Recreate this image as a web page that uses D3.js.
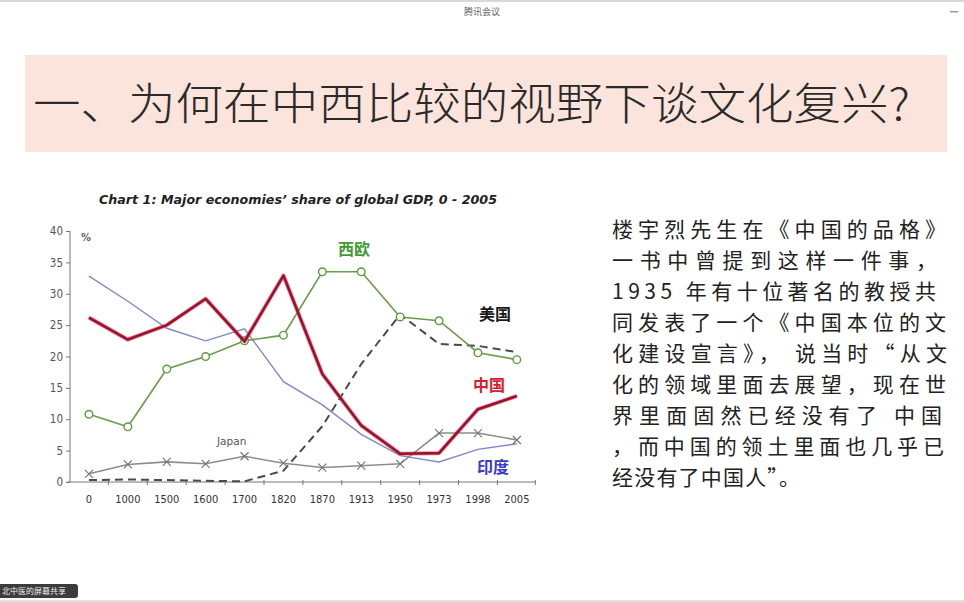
<!DOCTYPE html>
<html>
<head>
<meta charset="utf-8">
<script src="https://cdn.jsdelivr.net/npm/d3@7"></script>
<style>
  body { margin: 0; background: #fff; }
  svg { display: block; }
</style>
</head>
<body>
<svg width="964" height="602"></svg>
<script>
// chart data (share of global GDP, %)
var years = ["0", "1000", "1500", "1600", "1700", "1820", "1870", "1913", "1950", "1973", "1998", "2005"];
var china   = [26.2, 22.7, 25.0, 29.2, 22.4, 32.9, 17.2, 9.0, 4.5, 4.6, 11.6, 13.7];
var westEur = [10.8, 8.8, 18.0, 20.0, 22.5, 23.4, 33.5, 33.5, 26.3, 25.7, 20.6, 19.5];
var india   = [32.8, 28.8, 24.5, 22.5, 24.4, 16.0, 12.3, 7.6, 4.2, 3.2, 5.2, 6.1];
var usa     = [0.3, 0.4, 0.3, 0.2, 0.1, 1.8, 8.9, 18.8, 26.7, 22.0, 21.7, 20.7];
var japan   = [1.3, 2.8, 3.2, 2.9, 4.1, 3.0, 2.3, 2.6, 2.9, 7.8, 7.8, 6.7];
var yTicks  = [0, 5, 10, 15, 20, 25, 30, 35, 40];

var slideTitle = "一、为何在中西比较的视野下谈文化复兴?";
var chartTitle = "Chart 1: Major economies\u2019 share of global GDP, 0 - 2005";
var bodyLines = [
  "楼宇烈先生在《中国的品格》",
  "一书中曾提到这样一件事，",
  "1935 年有十位著名的教授共",
  "同发表了一个《中国本位的文",
  "化建设宣言》， 说当时“从文",
  "化的领域里面去展望，现在世",
  "界里面固然已经没有了 中国",
  "，而中国的领土里面也几乎已",
  "经没有了中国人”。"
];

var svg = d3.select("svg");
var cjk = "'Noto Sans CJK SC', 'Noto Sans', sans-serif";

// ---- slide chrome ----
svg.append("rect").attr("x", 0).attr("y", 0).attr("width", 964).attr("height", 2).attr("fill", "#d8d8d8");
svg.append("text").attr("x", 482).attr("y", 15).attr("text-anchor", "middle")
  .style("font-family", cjk).style("font-size", "9px").attr("fill", "#666").text("腾讯会议");
svg.append("rect").attr("x", 950).attr("y", 11).attr("width", 8).attr("height", 1.5).attr("fill", "#999");

svg.append("rect").attr("x", 25).attr("y", 55).attr("width", 922).attr("height", 97).attr("fill", "#fbe4dc");
svg.append("text").attr("x", 33).attr("y", 120)
  .attr("textLength", 877).attr("lengthAdjust", "spacingAndGlyphs")
  .style("font-family", cjk).style("font-size", "44px").style("font-weight", 300)
  .attr("fill", "#2a2a2a").text(slideTitle);

// right side paragraph
var lineW = [334, 325, 324, 334, 335, 334, 330, 332, 188];
svg.append("g").selectAll("text")
  .data(bodyLines)
  .enter().append("text")
  .attr("x", 612)
  .attr("y", function (d, i) { return 237 + i * 31; })
  .attr("textLength", function (d, i) { return lineW[i]; })
  .attr("lengthAdjust", "spacing")
  .style("font-family", cjk).style("font-size", "21px")
  .attr("fill", "#222")
  .text(function (d) { return d; });

// bottom strip
svg.append("rect").attr("x", 0).attr("y", 600).attr("width", 964).attr("height", 2).attr("fill", "#e2e2e2");
svg.append("rect").attr("x", -4).attr("y", 584).attr("width", 82).attr("height", 14).attr("rx", 3).attr("fill", "#3c3c3c");
svg.append("text").attr("x", 2).attr("y", 594)
  .style("font-family", cjk).style("font-size", "8px").attr("fill", "#eee").text("北中医的屏幕共享");

// ---- chart ----
svg.append("text").attr("x", 99).attr("y", 204)
  .attr("textLength", 398).attr("lengthAdjust", "spacingAndGlyphs")
  .style("font-family", "'DejaVu Sans', sans-serif").style("font-size", "12.5px")
  .style("font-weight", "bold").style("font-style", "italic")
  .attr("fill", "#222").text(chartTitle);

var x = d3.scaleBand().domain(years).range([69.5, 536.3]).padding(0);
var y = d3.scaleLinear().domain([0, 40]).range([482, 231]);
var cx = function (d, i) { return x(years[i]) + x.bandwidth() / 2; };

var yAxis = svg.append("g")
  .attr("transform", "translate(70,0)")
  .call(d3.axisLeft(y).tickValues(yTicks).tickSize(4).tickPadding(3));
yAxis.select(".domain").attr("stroke", "#777").attr("d", "M0,231V482");
yAxis.selectAll(".tick line").attr("stroke", "#777");
yAxis.selectAll("text").attr("fill", "#555")
  .style("font-family", "'DejaVu Sans Condensed', 'DejaVu Sans', sans-serif").style("font-size", "11.5px");

var xAxis = svg.append("g")
  .attr("transform", "translate(0,482)")
  .call(d3.axisBottom(x).tickSize(0).tickPadding(13));
xAxis.select(".domain").attr("stroke", "#777").attr("d", "M67,0H535");
xAxis.selectAll("text").attr("fill", "#333")
  .style("font-family", "'DejaVu Sans Condensed', 'DejaVu Sans', sans-serif").style("font-size", "11px");
// little boundary ticks between categories
xAxis.selectAll(".bound")
  .data(years.slice(1).concat(["end"]))
  .enter().append("line")
  .attr("class", "bound")
  .attr("x1", function (d) { return d === "end" ? x.range()[1] - 1 : x(d); })
  .attr("x2", function (d) { return d === "end" ? x.range()[1] - 1 : x(d); })
  .attr("y1", -2).attr("y2", 3)
  .attr("stroke", "#777");

svg.append("text").attr("x", 81).attr("y", 241)
  .style("font-family", "'DejaVu Sans', sans-serif").style("font-size", "10px")
  .style("font-weight", "bold").attr("fill", "#666").text("%");

var line = d3.line().x(cx).y(function (d) { return y(d); });

svg.append("path").datum(india).attr("d", line)
  .attr("fill", "none").attr("stroke", "#8088c8").attr("stroke-width", 1.4);

svg.append("path").datum(usa).attr("d", line)
  .attr("fill", "none").attr("stroke", "#4a4a4a").attr("stroke-width", 2)
  .attr("stroke-dasharray", "8,5");

svg.append("path").datum(japan).attr("d", line)
  .attr("fill", "none").attr("stroke", "#8c8c8c").attr("stroke-width", 1.6);
svg.append("g").selectAll("path")
  .data(japan)
  .enter().append("path")
  .attr("transform", function (d, i) { return "translate(" + cx(d, i) + "," + y(d) + ")"; })
  .attr("d", "M-4,-4L4,4M-4,4L4,-4")
  .attr("stroke", "#777").attr("stroke-width", 1.2);

svg.append("path").datum(westEur).attr("d", line)
  .attr("fill", "none").attr("stroke", "#6a9c4c").attr("stroke-width", 1.6);
svg.append("g").selectAll("circle")
  .data(westEur)
  .enter().append("circle")
  .attr("cx", cx).attr("cy", function (d) { return y(d); })
  .attr("r", 3.8)
  .attr("fill", "#fff").attr("stroke", "#5f9a3e").attr("stroke-width", 1.4);

svg.append("path").datum(china).attr("d", line)
  .attr("fill", "none").attr("stroke", "#e0485a").attr("stroke-width", 4.2).attr("stroke-opacity", 0.6)
  .attr("stroke-linejoin", "round");
svg.append("path").datum(china).attr("d", line)
  .attr("fill", "none").attr("stroke", "#9c1030").attr("stroke-width", 2.6)
  .attr("stroke-linejoin", "round");

// series labels
var lab = svg.append("g").style("font-family", cjk).style("font-weight", "bold").style("font-size", "16px");
lab.append("text").attr("x", 338).attr("y", 255).attr("fill", "#3f9a35").text("西欧");
lab.append("text").attr("x", 479).attr("y", 320).attr("fill", "#1a1a1a").text("美国");
lab.append("text").attr("x", 473).attr("y", 391).attr("fill", "#d6202e").text("中国");
lab.append("text").attr("x", 477).attr("y", 473).attr("fill", "#3b3bc4").text("印度");
svg.append("text").attr("x", 217).attr("y", 445)
  .style("font-family", "'DejaVu Sans', sans-serif").style("font-size", "10.5px")
  .attr("fill", "#555").text("Japan");
</script>
</body>
</html>
